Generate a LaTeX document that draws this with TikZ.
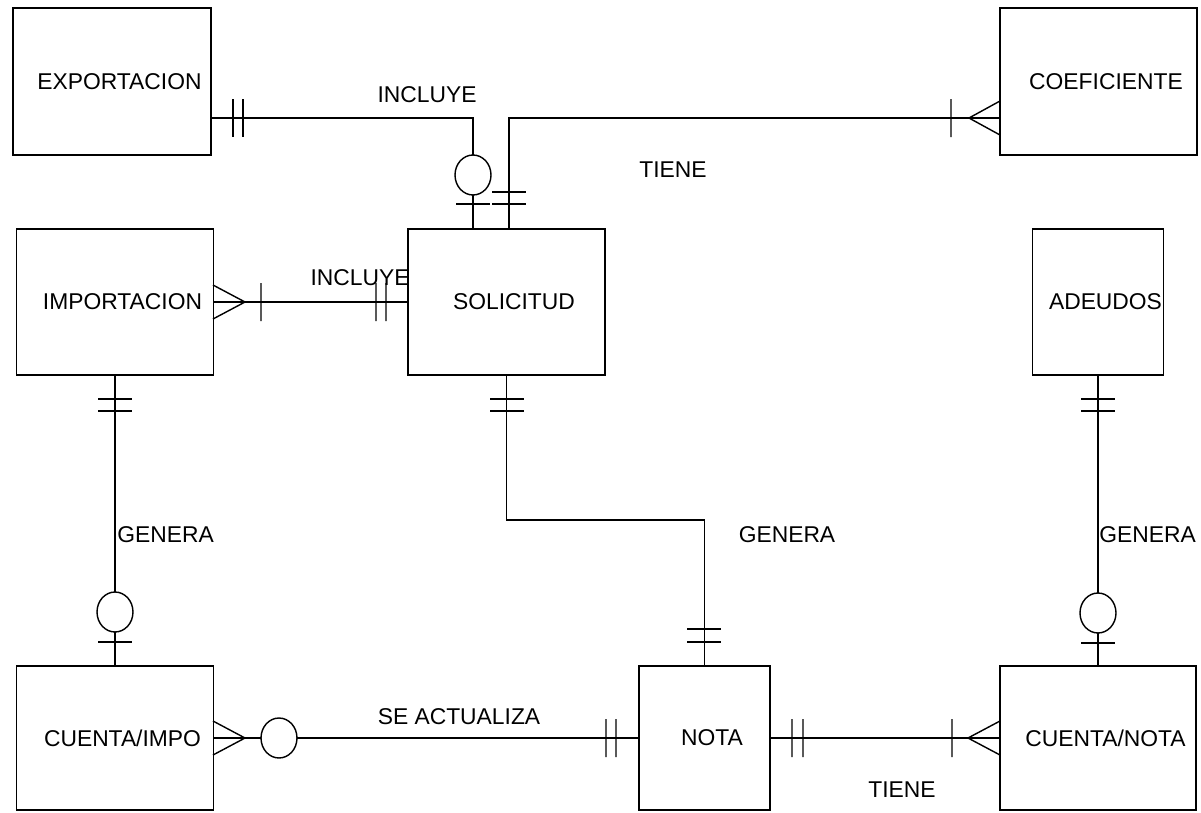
\documentclass[tikz,border=0pt]{standalone}
\usepackage{fontspec}
\setmainfont{Liberation Sans}
\usetikzlibrary{shapes.geometric}
\newcommand{\erfont}{\fontsize{13pt}{15pt}\selectfont}

\begin{document}
\begin{tikzpicture}[
  x=0.02cm,y=-0.02cm,
  ent/.style={rectangle,draw,line width=0.8pt,inner sep=0pt,
    minimum width=3.94cm,minimum height=2.92cm,font=\erfont,
    execute at begin node={\hspace*{0.3cm}}},
  rel/.style={line width=0.8pt},
  ring/.style={ellipse,draw,fill=white,line width=0.8pt,inner sep=0pt,
    minimum width=0.72cm,minimum height=0.8cm},
  lbl/.style={inner sep=0pt,font=\erfont}
]
\path[fill=white] (0,0) rectangle (1201,812);
\node[ent,minimum width=3.96cm,minimum height=2.94cm] (exportacion) at (112,81.5) {EXPORTACION};
\node[ent,minimum width=3.94cm,minimum height=2.94cm] (coeficiente) at (1098.5,81.5) {COEFICIENTE};
\node[ent] (importacion) at (115,302) {IMPORTACION};
\node[ent] (solicitud) at (506.5,302) {SOLICITUD};
\node[ent,minimum width=2.62cm] (adeudos) at (1098,302) {ADEUDOS};
\node[ent,minimum height=2.88cm] (cuentaimpo) at (115,738) {CUENTA/IMPO};
\node[ent,minimum width=2.62cm,minimum height=2.88cm] (nota) at (704.5,738) {NOTA};
\node[ent,minimum width=3.92cm,minimum height=2.88cm] (cuentanota) at (1098,738) {CUENTA/NOTA};

\coordinate (incl) at (473,118);
\coordinate (tiene) at (509,118);
\coordinate (gen) at (704.5,520);

\draw[rel] (exportacion.east |- incl) -| (solicitud.north -| incl);
\draw[rel] (coeficiente.west |- tiene) -| (solicitud.north -| tiene);
\draw[rel] (importacion) -- (solicitud);
\draw[rel] (importacion) -- (cuentaimpo);
\draw[rel] (solicitud) |- (gen) -- (nota);
\draw[rel] (adeudos) -- (cuentanota);
\draw[rel] (cuentaimpo) -- (nota);
\draw[rel] (nota) -- (cuentanota);

\draw[rel] (233,99) -- (233,137) (243,99) -- (243,137) (456,204) -- (490,204);
\draw[rel] (492,192) -- (526,192) (492,204) -- (526,204);
\draw[rel] (951,99) -- (951,137) (1000,101) -- (969,118) -- (1000,135);
\draw[rel] (213,285) -- (245,302) -- (213,319) (261,283) -- (261,321)
  (376,283) -- (376,321) (386,283) -- (386,321);
\draw[rel] (98,399) -- (132,399) (98,411) -- (132,411) (98,642) -- (132,642);
\draw[rel] (490,399) -- (524,399) (490,411) -- (524,411)
  (687,629) -- (721,629) (687,642) -- (721,642);
\draw[rel] (213,721) -- (245,738) -- (213,755) (606,719) -- (606,757) (616,719) -- (616,757);
\draw[rel] (792,719) -- (792,757) (803,719) -- (803,757) (952,719) -- (952,757)
  (1000,721) -- (968,738) -- (1000,755);
\draw[rel] (1081,399) -- (1115,399) (1081,411) -- (1115,411) (1081,643) -- (1115,643);

\node[ring] (optexp) at (473,175) {};
\node[ring] (optimp) at (115,612) {};
\node[ring] (optcta) at (279,738) {};
\node[ring] (optade) at (1098,613) {};

\node[lbl] (incluyeexp) at (427,95) {INCLUYE};
\node[lbl] (tienecoef) at (673,170) {TIENE};
\node[lbl] (incluyeimp) at (360,278) {INCLUYE};
\node[lbl,anchor=west] (generaimp) at (117,535) {GENERA};
\node[lbl] (generanota) at (787,535) {GENERA};
\node[lbl,anchor=west] (generaade) at (1099,535) {GENERA};
\node[lbl] (actualiza) at (459,717) {SE ACTUALIZA};
\node[lbl] (tienenota) at (902,790) {TIENE};
\end{tikzpicture}
\end{document}
